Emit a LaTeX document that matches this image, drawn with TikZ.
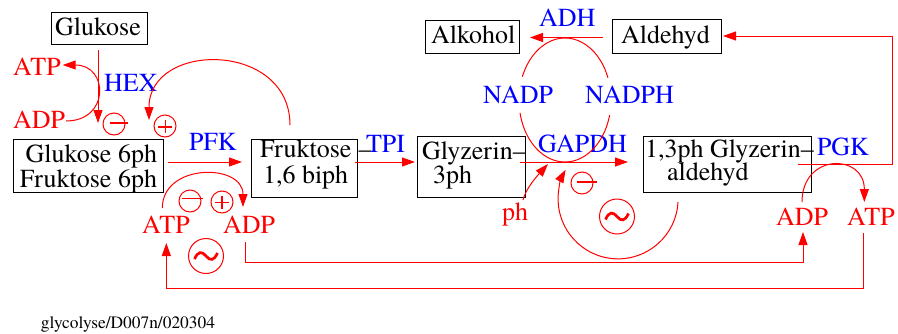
\documentclass[tikz,border=0pt]{standalone}
\usepackage{fontspec}
\setmainfont{TeX Gyre Termes}
\usetikzlibrary{arrows.meta,calc}
\tikzset{
  pics/wave/.style={code={
    \draw[red,line width=2.7pt] (-11.5,3) .. controls (-8,-5) and (-4,-5) .. (0,0)
      .. controls (4,5) and (8,5) .. (11.5,-3);}}
}
\begin{document}
\begin{tikzpicture}[x=1pt,y=-1pt,
  every node/.style={inner sep=0pt,outer sep=0pt},
  txt/.style={anchor=base west,font=\fontsize{26}{26}\selectfont},
  subst/.style={txt,text=black},
  enz/.style={txt,text=blue},
  cof/.style={txt,text=red},
  box/.style={draw=black,line width=1pt,rectangle},
  flow/.style={draw=red,line width=1pt,-{Triangle[length=13pt,width=9pt]}},
  link/.style={draw=red,line width=1pt},
  ring/.style={draw=red,line width=1pt,circle,minimum size=#1},
  sign/.style={draw=red,line width=1.3pt}
]
\useasboundingbox (0,0) rectangle (898,333);

% substrate boxes
\node[box,minimum width=96pt,minimum height=32pt]  (glc) at (99,28) {};
\node[box,minimum width=150pt,minimum height=53pt] (g6p) at (88,165.5) {};
\node[box,minimum width=106pt,minimum height=58pt] (f16) at (304,168) {};
\node[box,minimum width=108pt,minimum height=61pt] (g3p) at (471,166.5) {};
\node[box,minimum width=168pt,minimum height=56pt] (bpg) at (727,164) {};
\node[box,minimum width=94pt,minimum height=33pt]  (alk) at (472,36.5) {};
\node[box,minimum width=109pt,minimum height=34pt] (ald) at (666.5,36) {};

% substrate names
\node[subst] (glcT) at (55,35) {Glukose};
\node[subst,anchor=base east] (g6pA) at (157,162) {Glukose 6ph};
\node[subst,anchor=base east] (g6pB) at (157,187) {Fruktose 6ph};
\node[subst] (f16A) at (260,157) {Fruktose\kern7pt–};
\node[subst] (f16B) at (263,183) {1,6 biph};
\node[subst] (g3pA) at (422,159) {Glyzerin–};
\node[subst] (g3pB) at (433,183) {3ph};
\node[subst] (bpgA) at (645,157) {1,3ph Glyzerin–};
\node[subst] (bpgB) at (667,180) {aldehyd};
\node[subst] (alkT) at (431,43) {Alkohol};
\node[subst] (aldT) at (621,43) {Aldehyd};

% enzymes and coenzymes
\node[enz] (hex)   at (104,91)  {HEX};
\node[enz] (pfk)   at (189,150) {PFK};
\node[enz] (tpi)   at (366,152) {TPI};
\node[enz] (gapdh) at (538,152) {GAPDH};
\node[enz] (nadp)  at (483,103) {NADP};
\node[enz] (nadph) at (585,103) {NADPH};
\node[enz] (adh)   at (539,26)  {ADH};
\node[enz] (pgk)   at (817,155) {PGK};

% energy carriers
\node[cof] (atpA) at (13,75)   {ATP};
\node[cof] (adpA) at (13,128)  {ADP};
\node[cof] (atpB) at (142,233) {ATP};
\node[cof] (adpB) at (223,233) {ADP};
\node[cof] (ph)   at (502,220) {ph};
\node[cof] (adpC) at (776,225) {ADP};
\node[cof] (atpC) at (847,225) {ATP};

% regulation marks
\node[ring=22pt] (mA) at (114,124) {};
\draw[sign] ($(mA)+(-4,-1)$) -- +(18,0);
\node[ring=22pt] (pA) at (165,126) {};
\draw[sign] ($(pA)+(-7,1)$) -- +(14,0) ($(pA)+(0.5,-6)$) -- +(0,13);
\node[ring=22pt] (mB) at (190,201) {};
\draw[sign] ($(mB)+(-8,-2.5)$) -- +(21,0);
\node[ring=22pt] (pB) at (222,202) {};
\draw[sign] ($(pB)+(-7,0.5)$) -- +(14,0) ($(pB)+(0,-6)$) -- +(0,13);
\node[ring=22pt] (mC) at (582,183) {};
\draw[sign] ($(mC)+(-5,-1)$) -- +(20,0);
\node[ring=35pt] (wA) at (206,256) {};
\pic at (wA) {wave};
\node[ring=35pt] (wB) at (617,216.5) {};
\pic at (wB) {wave};

% main pathway
\draw[flow] ($(glc.south)+(-1,6)$) -- ($(glc.south)+(-1,79)$);
\draw[flow] ($(g6p.east)+(5,-3.5)$) -- ($(f16.west)+(-9,-6)$);
\draw[flow] ($(f16.east)+(-2,-6)$) -- ($(g3p.west)+(-2,-4.5)$);
\draw[flow] ($(g3p.east)+(-5,-4.5)$) -- ($(bpg.west)+(-15,-2)$);
\draw[flow] ($(ald.west)+(-9,1.5)$) -- ($(alk.east)+(11,1)$);
\draw[flow] ($(bpg.east)+(-13,0)$) -- ++(94,0) |- ($(ald.east)+(2,0)$);

% coenzyme couplings
\draw[flow] ($(adpA.base east)+(1,-7)$) .. controls +(44,0) and +(46,0) .. ($(atpA.base east)+(2,-10)$);
\draw[flow] ($(f16.north)+(-14,-14)$) .. controls +(0,-84) and +(0,-79) .. ($(pA.west)+(-5,-6)$);
\draw[flow] ($(atpB.base)+(-3.5,-25)$) .. controls +(0,-45) and +(0,-44) .. ($(adpB.base)+(-6,-26)$);
\draw[flow] ($(ph.base east)+(-5,-20)$) .. controls +(3,-12) and +(-10,11) .. ($(g3p.east)+(23,-2.5)$);
\draw[flow] ($(bpg.south)+(-49,10)$) arc[start angle=3,end angle=209,radius=60];
\draw[flow] ($(adpC.base)+(0,-23)$) .. controls +(0,-49) and +(0,-49) .. ($(atpC.base)+(-6.5,-23)$);
\draw[flow] ($(adpB.base)+(-4,9)$) -- ++(0,20) -| ($(adpC.base)+(1,7)$);
\draw[flow] ($(atpC.base)+(-7.5,8)$) -- ++(0,55) -| ($(atpB.base)+(0.5,10)$);

% NADP / NADPH cycle
\coordinate (redox) at (565,100);
\draw[link] ($(redox)+(202:46 and 62)$) arc[start angle=202,end angle=339,x radius=46,y radius=62];
\draw[link] ($(redox)+(14:46 and 62)$) arc[start angle=14,end angle=168,x radius=46,y radius=62];

\node[anchor=base west,font=\fontsize{17.4}{17.4}\selectfont] (tag) at (41,328) {glycolyse/D007n/020304};
\end{tikzpicture}
\end{document}
